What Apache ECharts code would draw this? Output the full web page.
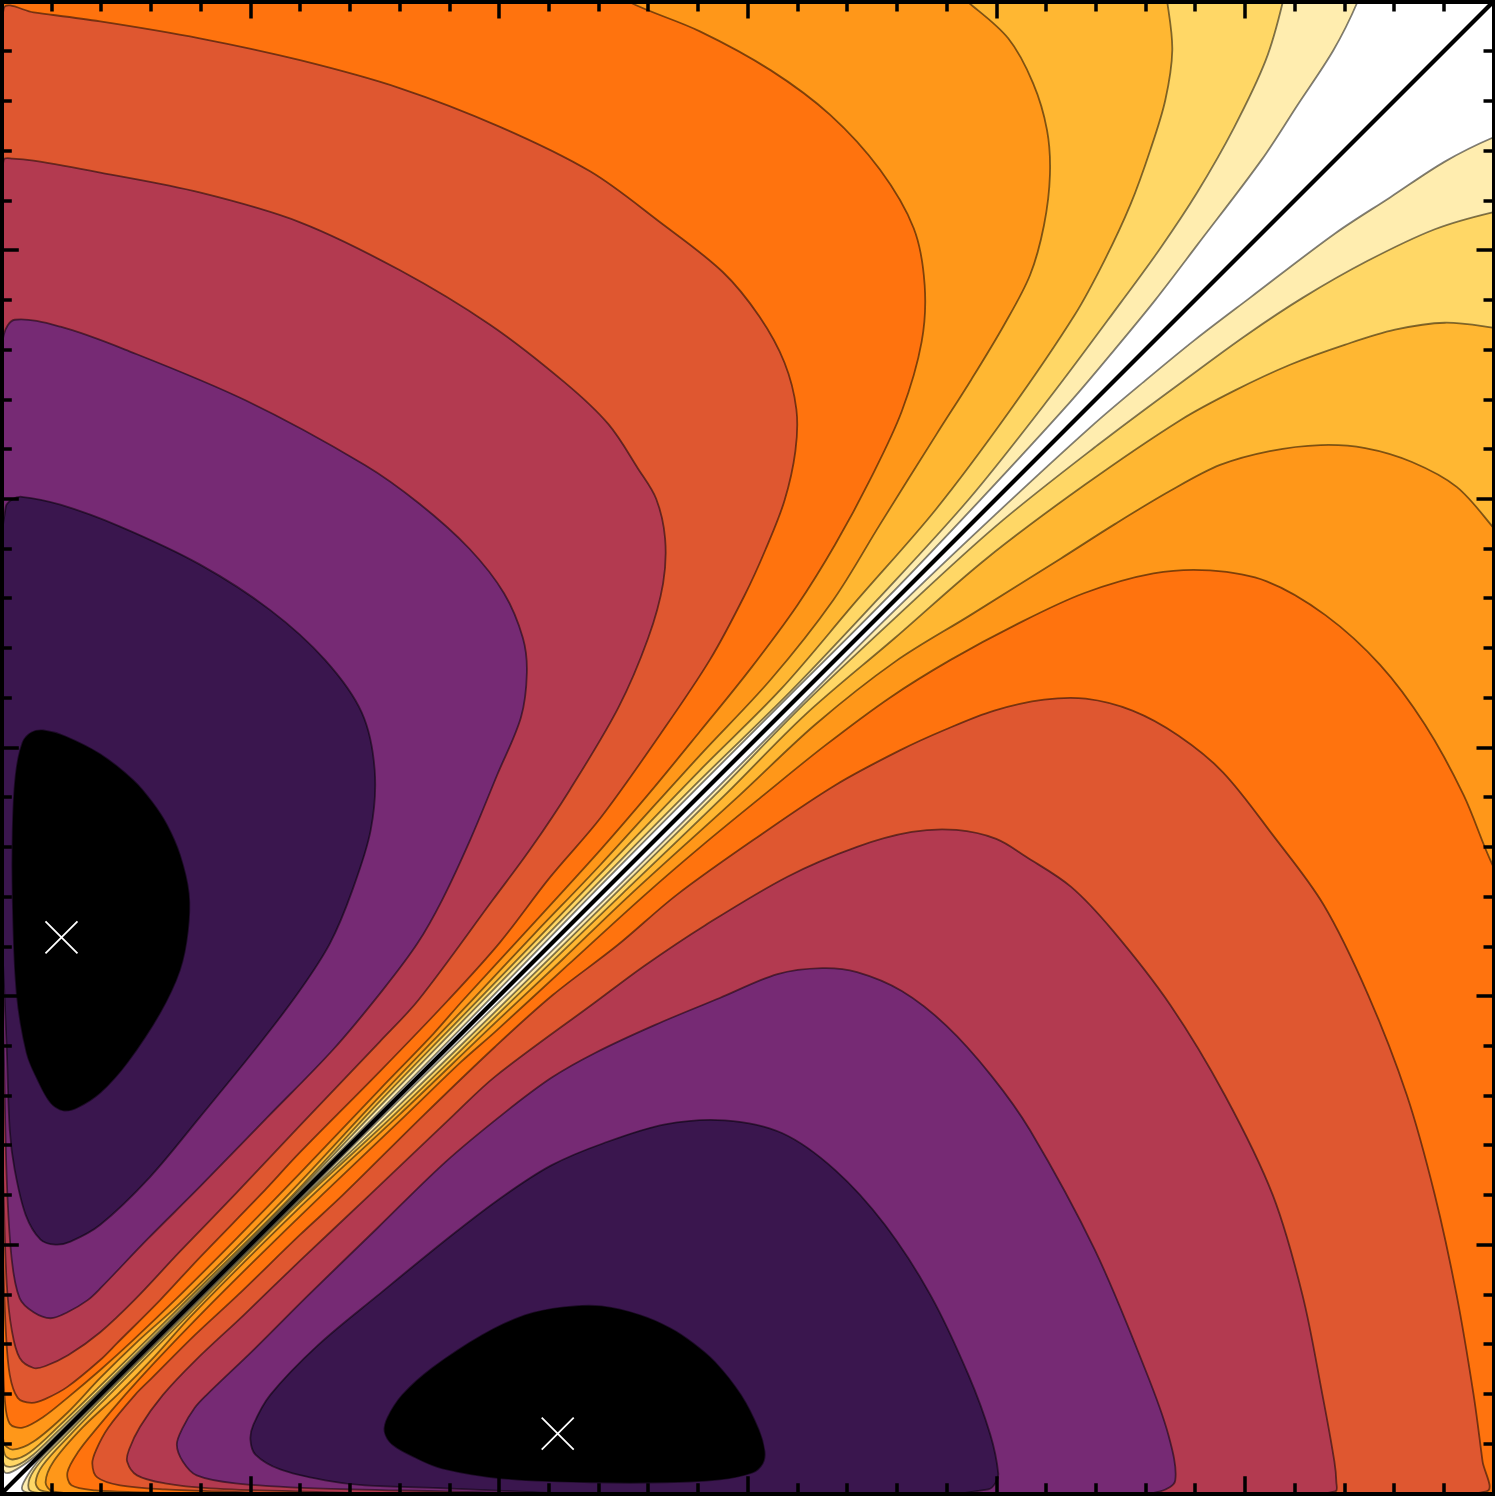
<!DOCTYPE html>
<html>
<head>
<meta charset="utf-8">
<style>
  html, body { margin: 0; padding: 0; background: #fff; }
  #chart { width: 1495px; height: 1496px; }
</style>
<script src="https://cdn.jsdelivr.net/npm/echarts@6/dist/echarts.min.js"></script>
</head>
<body>
<div id="chart"></div>
<script>
// contour outlines, upper-left lobe, [x, y] in axis units
// the picture is mirror symmetric about the diagonal, the other lobe swaps x and y
const level10 = [[1372,1528],[1363,1499],[1339,1451],[1303,1396],[1267,1341],[1202,1255],[1160,1200],[1119,1150],[1074,1097],[984,999],[888,898],[793,803],[702,712],[602,611],[487,493],[380,384],[292,295],[179,182],[99,102],[49,52],[32,36],[11,22],[3,21],[0,32],[-10,200],[-30,1530]]
const level9 = [[1292,1528],[1288,1499],[1271,1441],[1239,1373],[1202,1308],[1165,1252],[1125,1197],[1054,1102],[972,999],[880,898],[793,806],[702,717],[602,616],[484,496],[380,389],[290,295],[179,184],[99,104],[56,62],[32,39],[15,28],[3,28],[0,44],[-10,300],[-30,1530]]
const level8 = [[1166,1528],[1172,1499],[1177,1451],[1170,1401],[1155,1351],[1135,1296],[1109,1240],[1079,1185],[1014,1089],[939,989],[860,898],[783,808],[702,727],[602,623],[479,496],[380,394],[288,295],[179,187],[99,108],[59,69],[28,41],[11,34],[3,39],[0,64],[-10,300],[-30,1530]]
const level7 = [[935,1528],[972,1499],[1012,1463],[1037,1418],[1051,1371],[1054,1326],[1048,1275],[1034,1225],[1008,1175],[975,1120],[940,1065],[883,974],[836,898],[773,818],[702,742],[602,632],[536,563],[473,496],[380,399],[283,295],[179,191],[138,154],[99,116],[66,81],[32,52],[11,44],[2,51],[0,94],[-10,400],[-30,1530]]
const level6 = [[590,1525],[632,1499],[702,1470],[773,1431],[833,1386],[883,1331],[917,1272],[928,1215],[925,1158],[905,1088],[873,1019],[838,954],[800,893],[752,828],[702,766],[652,705],[602,647],[531,569],[464,496],[434,462],[380,406],[300,322],[233,253],[179,199],[131,153],[99,124],[66,96],[42,77],[21,66],[8,70],[3,94],[1,144],[-10,400],[-30,1530]]
const level5 = [[-8,1300],[2,1493],[32,1489],[99,1480],[199,1463],[300,1441],[400,1413],[501,1374],[592,1329],[662,1278],[725,1228],[762,1183],[787,1137],[799,1090],[798,1048],[787,998],[768,949],[747,903],[712,838],[662,763],[602,679],[551,619],[501,554],[449,496],[380,424],[300,343],[260,300],[199,237],[159,194],[116,151],[99,134],[66,107],[44,95],[30,91],[16,96],[8,119],[4,164],[1,245],[-8,500]]
const level4 = [[-8,1250],[2,1341],[11,1342],[32,1340],[99,1328],[199,1308],[300,1278],[400,1230],[491,1175],[566,1117],[610,1075],[640,1030],[658,1000],[667,960],[665,915],[650,860],[620,790],[571,707],[531,647],[494,597],[419,496],[380,454],[300,370],[235,301],[179,243],[134,195],[99,162],[67,139],[44,128],[32,126],[18,136],[10,164],[5,210],[2,295],[-8,700]]
const level3 = [[-6,1100],[2,1165],[13,1180],[59,1173],[124,1150],[245,1099],[365,1034],[420,995],[470,950],[505,905],[524,860],[528,825],[522,780],[498,722],[471,657],[443,597],[418,553],[383,506],[333,446],[267,378],[199,308],[146,255],[99,206],[86,194],[66,182],[49,176],[32,182],[18,196],[10,235],[5,315],[2,446],[-6,800]]
const level2 = [[-6,900],[4,992],[10,999],[20,1002],[59,994],[119,972],[199,934],[270,888],[325,838],[362,785],[375,727],[371,667],[352,605],[330,553],[300,506],[260,453],[199,378],[149,318],[99,270],[69,253],[54,250],[39,255],[24,280],[13,325],[8,365],[5,446],[2,516],[-6,700]]
const level1 = [[42,767],[64,761],[99,743],[132,717],[151,695],[166,672],[179,642],[188,603],[187,565],[179,526],[159,483],[126,433],[99,403],[76,388],[62,385],[49,393],[36,416],[25,443],[15,503],[11,597],[11,667],[14,722],[21,755],[30,765]]

const levels = [level10, level9, level8, level7, level6, level5, level4, level3, level2, level1]
const levelColors = ['#ffedaf', '#ffd766', '#ffb732', '#ff9719', '#ff730e', '#df5730', '#b33a50', '#762a74', '#3a164e', '#000000']

const minima = [[60, 559], [559, 60]]
const diagonal = [[0, 0], [1500, 1500]]

function contourSeries(points, color) {
  return {
    type: 'custom',
    coordinateSystem: 'cartesian2d',
    clip: true,
    silent: true,
    animation: false,
    data: points,
    renderItem(params, api) {
      if (params.dataIndex !== 0) return null
      return {
        type: 'polygon',
        shape: { points: points.map(p => api.coord(p)), smooth: 0.33 },
        style: { fill: color, stroke: 'rgba(0,0,0,0.5)', lineWidth: 1.8 }
      }
    }
  }
}

let series = []
levels.forEach((points, i) => {
  series.push(contourSeries(points, levelColors[i]))
  series.push(contourSeries(points.map(p => [p[1], p[0]]), levelColors[i]))
})

series.push({
  type: 'line',
  data: diagonal,
  symbol: 'none',
  clip: true,
  silent: true,
  animation: false,
  lineStyle: { color: '#000', width: 4.2 },
  z: 5
})
series.push({
  type: 'scatter',
  data: minima,
  symbol: 'path://M0 0L1 1M1 0L0 1',
  symbolSize: 32,
  silent: true,
  animation: false,
  itemStyle: { color: 'none', borderColor: '#fff', borderWidth: 1.8, opacity: 1 },
  z: 6
})

function frameAxis(position) {
  return {
    type: 'value',
    position: position,
    min: 0,
    max: 1500,
    interval: 250,
    z: 10,
    axisLine: { show: true, onZero: false, lineStyle: { color: '#000', width: 4, cap: 'square' } },
    axisTick: { show: true, inside: true, length: 17, lineStyle: { color: '#000', width: 3.5 } },
    minorTick: { show: true, splitNumber: 5, length: 10, lineStyle: { color: '#000', width: 3.5 } },
    axisLabel: { show: false },
    splitLine: { show: false },
    minorSplitLine: { show: false }
  }
}

const chart = echarts.init(document.getElementById('chart'), null, { renderer: 'canvas' })
chart.setOption({
  animation: false,
  backgroundColor: '#fff',
  grid: { left: 1.8, top: 1.5, width: 1491.7, height: 1491.8 },
  xAxis: [frameAxis('bottom'), frameAxis('top')],
  yAxis: [frameAxis('left'), frameAxis('right')],
  series: series
})
</script>
</body>
</html>
